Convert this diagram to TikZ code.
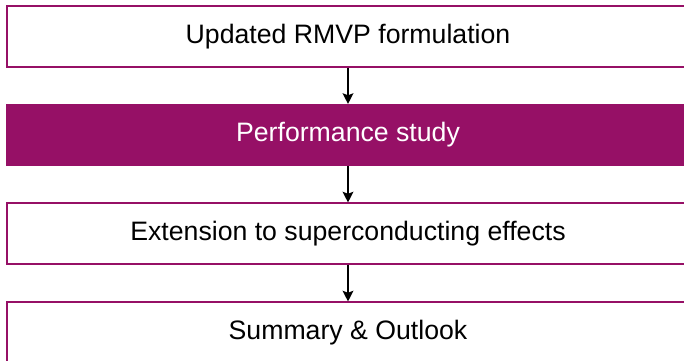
\documentclass[tikz,border=0pt]{standalone}
\usepackage{fontspec}
\setmainfont{Liberation Sans}
\usetikzlibrary{arrows.meta}
\definecolor{plum}{HTML}{961066}
\tikzset{
  stepbox/.style={draw=plum, line width=0.8pt, fill=white, minimum width=511.5pt,
    minimum height=45.75pt, inner sep=0pt, font=\fontsize{20}{24}\selectfont, text=black},
  activebox/.style={stepbox, fill=plum, text=white},
  flow/.style={line width=1.5pt, -{Stealth[length=8pt, width=8pt, inset=1.5pt]}}
}
\begin{document}
\begin{tikzpicture}[x=0.75pt, y=-0.75pt]
  \useasboundingbox (0,0) rectangle (684,360);
  \clip (0,0) rectangle (684,360);
  \node[stepbox] (b1) at (348,36.5) {Updated RMVP formulation};
  \node[activebox] (b2) at (348,135) {Performance study};
  \node[stepbox] (b3) at (348,233.5) {Extension to superconducting effects};
  \node[stepbox] (b4) at (348,332.5) {Summary \& Outlook};
  \draw[flow] (b1.south) -- (b2.north);
  \draw[flow] (b2.south) -- (b3.north);
  \draw[flow] (b3.south) -- (b4.north);
\end{tikzpicture}
\end{document}
